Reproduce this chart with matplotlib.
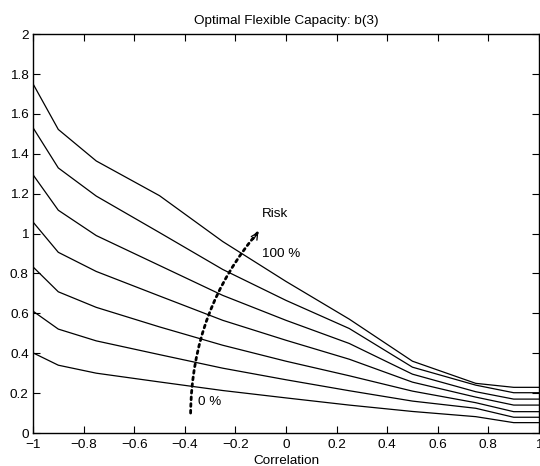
import matplotlib
matplotlib.use("Agg")
import matplotlib.pyplot as plt

plt.rcParams['font.family'] = ['Liberation Sans', 'DejaVu Sans']

# correlation grid and b(3) for increasing risk levels (0 % ... 100 %)
correlation = [-1, -0.9, -0.75, -0.5, -0.25, 0, 0.25, 0.5, 0.75, 0.9, 1]
b3_risk = [
    [0.402, 0.340, 0.300, 0.256, 0.213, 0.176, 0.140, 0.108, 0.082, 0.052, 0.052],
    [0.611, 0.521, 0.462, 0.393, 0.325, 0.267, 0.212, 0.160, 0.124, 0.079, 0.079],
    [0.833, 0.708, 0.630, 0.532, 0.440, 0.360, 0.287, 0.210, 0.152, 0.107, 0.107],
    [1.058, 0.906, 0.810, 0.687, 0.565, 0.465, 0.370, 0.255, 0.180, 0.140, 0.140],
    [1.295, 1.117, 0.990, 0.840, 0.690, 0.565, 0.449, 0.295, 0.207, 0.170, 0.170],
    [1.531, 1.329, 1.188, 1.005, 0.820, 0.665, 0.524, 0.330, 0.240, 0.202, 0.202],
    [1.751, 1.522, 1.364, 1.190, 0.960, 0.760, 0.571, 0.360, 0.249, 0.229, 0.229],
]

xticks = [-1, -0.8, -0.6, -0.4, -0.2, 0, 0.2, 0.4, 0.6, 0.8, 1]
xticklabels = ['\u22121', '\u22120.8', '\u22120.6', '\u22120.4', '\u22120.2',
               '0', '0.2', '0.4', '0.6', '0.8', '1']
yticks = [0, 0.2, 0.4, 0.6, 0.8, 1, 1.2, 1.4, 1.6, 1.8, 2]
yticklabels = ['0', '0.2', '0.4', '0.6', '0.8', '1', '1.2', '1.4', '1.6', '1.8', '2']

# risk arrow end points
arrow_start = (-0.377, 0.10)
arrow_end = (-0.109, 1.01)

fs = 9.7

fig = plt.figure(figsize=(5.4, 4.66), dpi=100)
ax = fig.add_axes([0.0611, 0.0708, 0.937, 0.856])

for serie in b3_risk:
    ax.plot(correlation, serie, color='black', linewidth=0.9)

ax.set_xlim(-1, 1)
ax.set_ylim(0, 2)
ax.set_xticks(xticks)
ax.set_xticklabels(xticklabels)
ax.set_yticks(yticks)
ax.set_yticklabels(yticklabels)
ax.tick_params(direction='in', length=5, width=0.8, labelsize=fs,
               top=True, right=True)
ax.tick_params(axis='x', pad=4)
ax.tick_params(axis='y', pad=3)
for s in ax.spines.values():
    s.set_linewidth(1.0)

ax.set_title('Optimal Flexible Capacity: b(3)', fontsize=fs, pad=7)
ax.set_xlabel('Correlation', fontsize=fs, labelpad=3)

# dotted curved arrow (body + head)
ax.annotate('', xy=arrow_end, xytext=arrow_start,
            arrowprops=dict(arrowstyle='-', linestyle=(0, (1, 1.4)), linewidth=2.0,
                            color='black', connectionstyle='arc3,rad=-0.18',
                            shrinkA=0, shrinkB=0))
ax.annotate('', xy=arrow_end, xytext=(arrow_end[0] - 0.02, arrow_end[1] - 0.04),
            arrowprops=dict(arrowstyle='->', linewidth=0.9, color='black',
                            mutation_scale=12, shrinkA=0, shrinkB=0))

ax.text(-0.096, 1.097, 'Risk', fontsize=fs, va='center', ha='left')
ax.text(-0.096, 0.896, '100 %', fontsize=fs, va='center', ha='left')
ax.text(-0.348, 0.155, '0 %', fontsize=fs, va='center', ha='left')

fig.savefig('out.png', dpi=100)
